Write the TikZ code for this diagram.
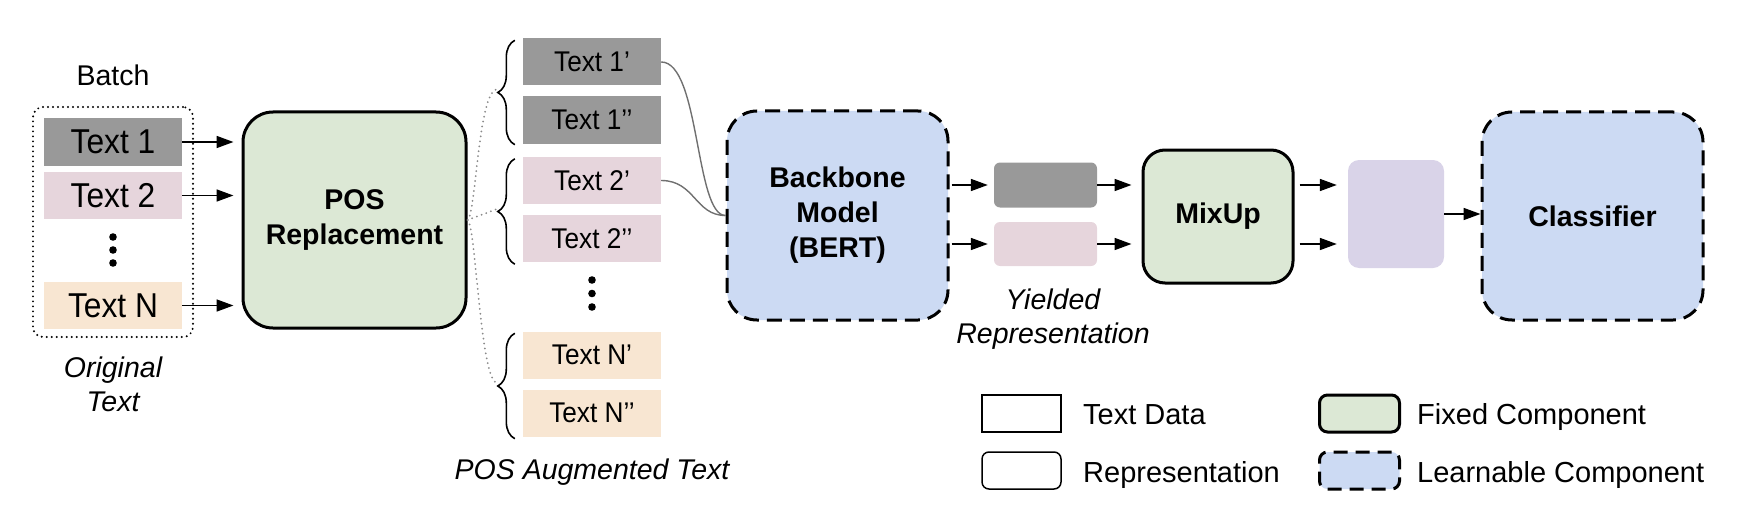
\documentclass[tikz,border=0pt]{standalone}
\usepackage{fontspec}
\setmainfont{Liberation Sans}
\newfontfamily\condfont[FakeStretch=0.92]{Liberation Sans}
\usetikzlibrary{arrows.meta,decorations.pathreplacing,calc}
\definecolor{cgray}{HTML}{999999}
\definecolor{cpink}{HTML}{E6D5DC}
\definecolor{corange}{HTML}{F8E6D2}
\definecolor{cgreen}{HTML}{DCE8D5}
\definecolor{cblue}{HTML}{CCDAF3}
\definecolor{cpurple}{HTML}{D9D3E8}
\definecolor{clink}{HTML}{707070}
\definecolor{cdot}{HTML}{8A8A8A}
\begin{document}
\begin{tikzpicture}[x=1pt,y=-1pt,
  txt/.style={minimum width=138pt, minimum height=47pt, inner sep=0pt, font=\condfont\fontsize{34.5}{38}\selectfont},
  txtb/.style={minimum width=138pt, minimum height=47pt, inner sep=0pt, font=\condfont\fontsize{28.5}{32}\selectfont},
  lbl/.style={inner sep=0pt, align=center, font=\fontsize{28.5}{35}\selectfont},
  ital/.style={inner sep=0pt, align=center, font=\fontsize{28.5}{34}\selectfont\itshape},
  fixedbox/.style={draw=black, line width=3pt, fill=cgreen, inner sep=0pt, align=center, font=\fontsize{28.5}{35}\selectfont\bfseries},
  learnbox/.style={draw=black, line width=3pt, dash pattern=on 15pt off 8pt, fill=cblue, inner sep=0pt, align=center, font=\fontsize{28.5}{35}\selectfont\bfseries},
  repbox/.style={inner sep=0pt, rounded corners=6pt},
  arr/.style={-{Triangle[length=17pt,width=12pt]}, line width=1.7pt},
  link/.style={draw=clink, line width=1.4pt},
  dotline/.style={draw=cdot, line width=2pt, line cap=round, dash pattern=on 0pt off 5pt},
  bracestyle/.style={decorate, decoration={brace, amplitude=17pt}, line width=1.6pt},
  legtext/.style={anchor=base west, inner sep=0pt, font=\fontsize{29}{34}\selectfont}
]
\useasboundingbox (0,0) rectangle (1750,524);

% ---- original batch ----
\node[lbl] (batch) at (113,75) {Batch};
\node (batchbox) [draw=black, line width=2.2pt, line cap=round, dash pattern=on 0pt off 5pt, rounded corners=10pt, minimum width=160pt, minimum height=230pt, inner sep=0pt] at (113,222) {};
\node[txt, fill=cgray] (t1) at (113,142) {Text 1};
\node[txt, fill=cpink] (t2) at (113,195.5) {Text 2};
\node[txt, fill=corange] (tn) at (113,305.5) {Text N};
\foreach \yy in {237,250,263} \fill (113,\yy) circle (3.8pt);
\node[ital] (orig) at (113,384) {Original\\Text};

% ---- POS replacement ----
\node[fixedbox, rounded corners=30pt, minimum width=223pt, minimum height=216pt] (pos) at (354.5,220) {POS\\Replacement};
\draw[arr, shorten >=8pt] (t1.east) -- (t1.east -| pos.west);
\draw[arr, shorten >=8pt] (t2.east) -- (t2.east -| pos.west);
\draw[arr, shorten >=8pt] (tn.east) -- (tn.east -| pos.west);

% ---- augmented texts ----
\node[txtb, fill=cgray] (a1) at (592,62) {Text 1’};
\node[txtb, fill=cgray] (b1) at (592,120) {Text 1’’};
\node[txtb, fill=cpink] (a2) at (592,180.5) {Text 2’};
\node[txtb, fill=cpink] (b2) at (592,238.5) {Text 2’’};
\node[txtb, fill=corange] (an) at (592,355) {Text N’};
\node[txtb, fill=corange] (bn) at (592,413) {Text N’’};
\foreach \yy in {280,293.5,307} \fill (592,\yy) circle (3.8pt);
\node[ital] (augl) at (592,472) {POS Augmented Text};

\draw[bracestyle] ([xshift=-8pt,yshift=-1pt]b1.south west) -- ([xshift=-8pt,yshift=-2pt]a1.north west);
\draw[bracestyle] ([xshift=-8pt,yshift=-2pt]b2.south west) -- ([xshift=-8pt,yshift=-2pt]a2.north west);
\draw[bracestyle] ([xshift=-8pt,yshift=-2pt]bn.south west) -- ([xshift=-8pt,yshift=-2pt]an.north west);
\coordinate (tip1) at (497,89);
\coordinate (tip2) at (497,209);
\coordinate (tipn) at (497,383);
\draw[dotline] (pos.east) .. controls (476,215) and (478,92) .. (tip1);
\draw[dotline] (pos.east) -- (tip2);
\draw[dotline] (pos.east) .. controls (476,225) and (480,380) .. (tipn);

% ---- backbone ----
\node[learnbox, rounded corners=30pt, minimum width=221pt, minimum height=209pt] (bb) at (837.5,215.5) {Backbone\\Model\\(BERT)};
\draw[link] (a1.east) .. controls (700,62) and (695,215.5) .. (bb.west);
\draw[link] (a2.east) .. controls (695,180.5) and (695,215.5) .. (bb.west);

% ---- yielded representations ----
\node[repbox, fill=cgray, minimum width=103pt, minimum height=45pt] (g1) at (1045.5,185) {};
\node[repbox, fill=cpink, minimum width=103pt, minimum height=44pt] (g2) at (1045.5,244) {};
\node[ital] (yl) at (1053,319.5) {Yielded\\Representation};
\draw[arr, shorten <=2pt, shorten >=6pt] (bb.east |- g1.west) -- (g1.west);
\draw[arr, shorten <=2pt, shorten >=6pt] (bb.east |- g2.west) -- (g2.west);

% ---- mixup ----
\node[fixedbox, rounded corners=22pt, minimum width=150pt, minimum height=133pt] (mix) at (1218,216.5) {MixUp};
\draw[arr, shorten >=10pt] (g1.east) -- (g1.east -| mix.west);
\draw[arr, shorten >=10pt] (g2.east) -- (g2.east -| mix.west);

% ---- mixed representation ----
\node[fill=cpurple, rounded corners=11pt, minimum width=96pt, minimum height=108pt, inner sep=0pt] (pur) at (1396,214) {};
\draw[arr, shorten <=5pt, shorten >=11pt] (mix.east |- g1.east) -- (pur.west |- g1.east);
\draw[arr, shorten <=5pt, shorten >=11pt] (mix.east |- g2.east) -- (pur.west |- g2.east);

% ---- classifier ----
\node[learnbox, rounded corners=30pt, minimum width=221pt, minimum height=208pt] (cls) at (1592.5,216) {Classifier};
\draw[arr] (pur.east) -- (pur.east -| cls.west);

% ---- legend ----
\node[draw=black, line width=1.5pt, minimum width=79pt, minimum height=37pt, inner sep=0pt] (lg1) at (1021.5,413.5) {};
\node[draw=black, line width=1.5pt, rounded corners=7pt, minimum width=79pt, minimum height=37pt, inner sep=0pt] (lg2) at (1021.5,470.5) {};
\node[draw=black, line width=3pt, fill=cgreen, rounded corners=8pt, minimum width=80pt, minimum height=37pt, inner sep=0pt] (lg3) at (1359.5,413.5) {};
\node[draw=black, line width=3pt, dash pattern=on 14pt off 8pt, fill=cblue, rounded corners=8pt, minimum width=80pt, minimum height=37pt, inner sep=0pt] (lg4) at (1359.5,470.5) {};
\node[legtext] (lt1) at (1083,424) {Text Data};
\node[legtext] (lt2) at (1083,482) {Representation};
\node[legtext] (lt3) at (1417,424) {Fixed Component};
\node[legtext] (lt4) at (1417,482) {Learnable Component};
\end{tikzpicture}
\end{document}
